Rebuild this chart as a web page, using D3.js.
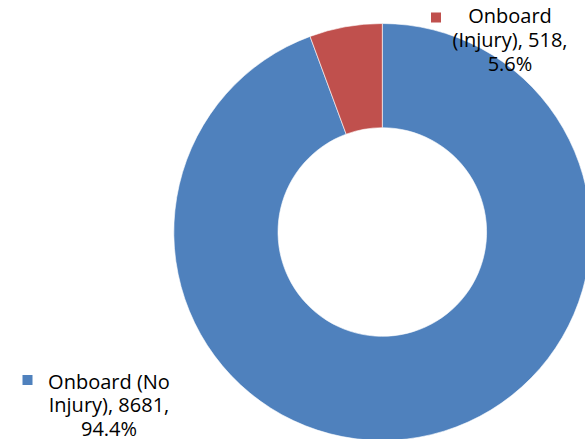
<!DOCTYPE html>
<html>
<head>
<meta charset="utf-8">
<script src="https://cdn.jsdelivr.net/npm/d3@7"></script>
<style>
  body { margin: 0; background: #fff; }
  svg { display: block; }
  .lbl { font-family: "Open Sans", "Lato", sans-serif; font-size: 20px; fill: #000; }
</style>
</head>
<body>
<div id="chart"></div>
<script>
// chart data
const categories = ["Onboard (No Injury)", "Onboard (Injury)"];
const values = [8681, 518];
const colors = ["#4F81BD", "#C0504D"];

const width = 585, height = 439;
const cx = 382.3, cy = 232;
const outerR = 208.5, innerR = 104.3;

const svg = d3.select("#chart")
    .append("svg")
    .attr("width", width)
    .attr("height", height);

const total = d3.sum(values);
const pct = d3.format(".1%");

const pie = d3.pie().sort(null).value(d => d.value);
const arc = d3.arc().innerRadius(innerR).outerRadius(outerR);

const data = categories.map((c, i) => ({ name: c, value: values[i], color: colors[i] }));

const g = svg.append("g")
    .attr("transform", `translate(${cx}, ${cy})`);

g.selectAll("path")
    .data(pie(data))
    .join("path")
    .attr("d", arc)
    .attr("fill", d => d.data.color)
    .attr("stroke", "#fff")
    .attr("stroke-width", 0.6);

// data labels, wrapped like the original
const labelLines = [
    ["Onboard (No", "Injury), " + values[0] + ",", pct(values[0] / total)],
    ["Onboard", "(Injury), " + values[1] + ",", pct(values[1] / total)]
];
// text centre x, first baseline y, legend key position
const labelPos = [
    { x: 109, y: 388.5, kx: 22.5, ky: 375 },
    { x: 510, y: 23.3, kx: 431, ky: 12.5 }
];

labelLines.forEach((lines, i) => {
    const p = labelPos[i];
    svg.append("rect")
        .attr("x", p.kx)
        .attr("y", p.ky)
        .attr("width", 10)
        .attr("height", 10)
        .attr("fill", colors[i]);

    const t = svg.append("text")
        .attr("class", "lbl")
        .attr("text-anchor", "middle")
        .attr("x", p.x)
        .attr("y", p.y);

    t.selectAll("tspan")
        .data(lines)
        .join("tspan")
        .attr("x", p.x)
        .attr("dy", (d, j) => j === 0 ? 0 : 23.9)
        .text(d => d);
});
</script>
</body>
</html>
